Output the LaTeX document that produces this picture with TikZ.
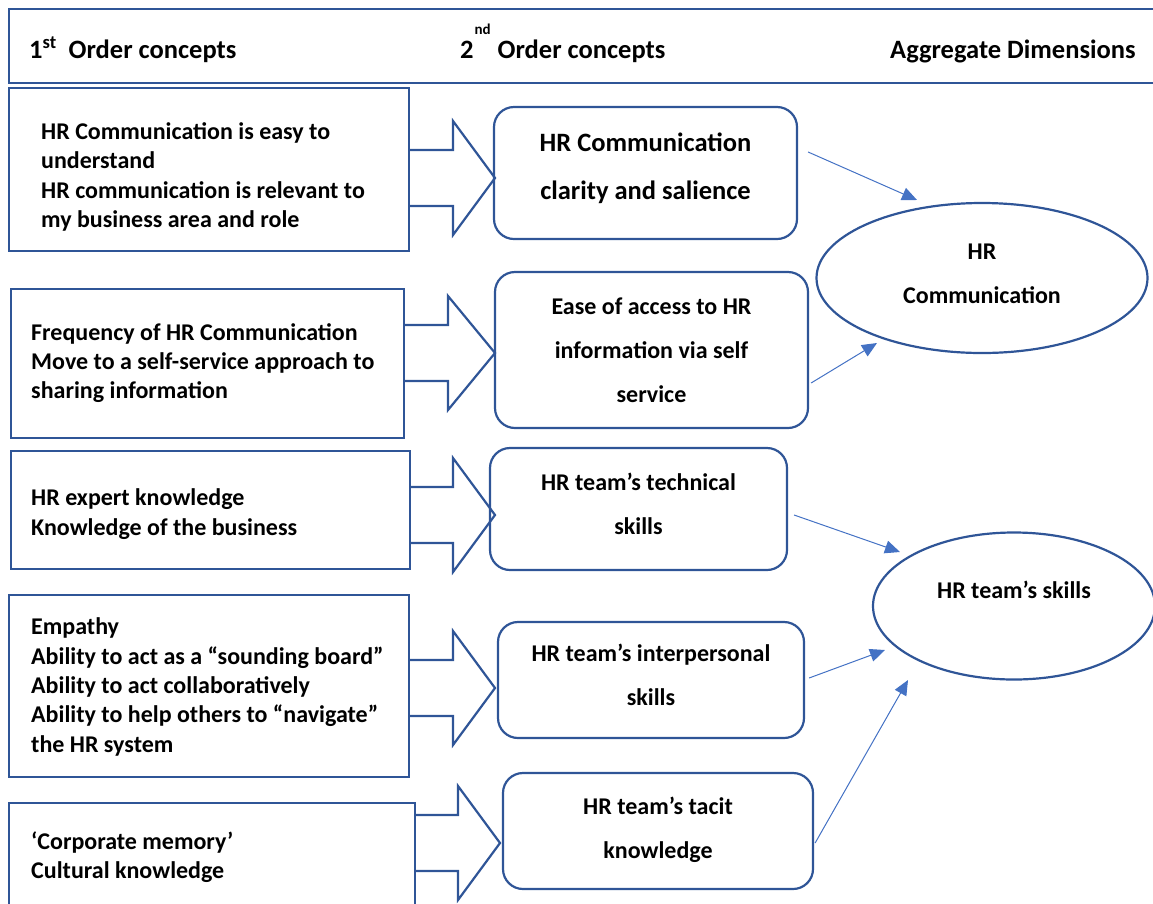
\documentclass[tikz,border=0pt]{standalone}
\usepackage{fontspec}
\setmainfont{Carlito}
\usetikzlibrary{arrows.meta,shapes.geometric,calc}
\definecolor{edgeblue}{RGB}{47,85,151}
\definecolor{linkblue}{RGB}{68,114,196}
% extra depth below the last line, to lift centred text a little
\newcommand{\deepstrut}[1]{\rule[-#1]{0pt}{0pt}}
% wide hollow arrow: shaft start x, head base x, tip x, centre y
\newcommand{\blockarrow}[4]{%
  \draw[blockarrow] (#1,#4-28) -- (#2,#4-28) -- (#2,#4-57) -- (#3,#4)
    -- (#2,#4+57) -- (#2,#4+28) -- (#1,#4+28);}
\begin{document}
\begin{tikzpicture}[x=1pt,y=-1pt,
  frame/.style={draw=edgeblue, line width=2.2pt, inner sep=0pt},
  srcbox/.style={frame, rectangle, anchor=north west},
  midbox/.style={frame, rounded corners=20pt, align=center,
    font=\bfseries\fontsize{24}{44}\selectfont},
  dimnode/.style={frame, ellipse, align=center,
    font=\bfseries\fontsize{24}{44}\selectfont},
  srctext/.style={anchor=west, align=left, inner sep=0pt,
    font=\bfseries\fontsize{24}{29.4}\selectfont},
  hdrtext/.style={anchor=base west, inner sep=0pt,
    font=\bfseries\fontsize{26.5}{30}\selectfont},
  blockarrow/.style={draw=edgeblue, line width=2.2pt, line join=miter},
  thinarrow/.style={draw=linkblue, line width=1pt,
    -{Triangle[length=15pt,width=13pt]}}
]
\clip (0,0) rectangle (1153,903);

% column headings
\node[srcbox, minimum width=1170pt, minimum height=74pt] (hdr) at (8,8) {};
\node[hdrtext] (h1) at (29,58) {1\textsuperscript{st}\ \ Order concepts};
\node[hdrtext] (h2) at (460,58)
  {2\hspace{1pt}\raisebox{24pt}{\fontsize{15}{15}\selectfont nd}\hspace{7pt}Order concepts};
\node[hdrtext] (h3) at (890,58) {Aggregate Dimensions};

% first order concepts
\node[srcbox, minimum width=400pt, minimum height=163pt] (b1) at (8,87) {};
\node[srcbox, minimum width=393pt, minimum height=149pt] (b2) at (10,288) {};
\node[srcbox, minimum width=399pt, minimum height=118pt] (b3) at (10,450) {};
\node[srcbox, minimum width=400pt, minimum height=182pt] (b4) at (8,594) {};
\node[srcbox, minimum width=406pt, minimum height=140pt] (b5) at (8,802) {};

\node[srctext] (t1) at (41,177) {HR Communication is easy to\\understand\\HR communication is relevant to\\my business area and role};
\node[srctext] (t2) at (31,363) {Frequency of HR Communication\\Move to a self-service approach to\\sharing information};
\node[srctext] (t3) at (31,514) {HR expert knowledge\\Knowledge of the business};
\node[srctext] (t4) at (31,687) {Empathy\\Ability to act as a “sounding board”\\Ability to act collaboratively\\Ability to help others to “navigate”\\the HR system};
\node[srctext] (t5) at (31,857) {‘Corporate memory’\\Cultural knowledge};

% wide arrows into the second order concepts
\blockarrow{408}{453}{495}{178}
\blockarrow{403}{448}{495}{353}
\blockarrow{409}{453}{495}{515}
\blockarrow{408}{453}{495}{688}
\blockarrow{414}{458}{500}{843}

% second order concepts
\node[midbox, minimum width=303pt, minimum height=132pt,
  font=\bfseries\fontsize{26.5}{48}\selectfont] (m1) at (645.5,173)
  {HR Communication\\clarity and salience\deepstrut{14pt}};
\node[midbox, minimum width=313pt, minimum height=156pt] (m2) at (651.5,350)
  {Ease of access to HR\\information via self\\service};
\node[midbox, minimum width=297pt, minimum height=122pt] (m3) at (638.5,509)
  {HR team’s technical\\skills\deepstrut{11pt}};
\node[midbox, minimum width=306pt, minimum height=116pt] (m4) at (651,680)
  {HR team’s interpersonal\\skills\deepstrut{11pt}};
\node[midbox, minimum width=310pt, minimum height=116pt] (m5) at (658,831)
  {HR team’s tacit\\knowledge\deepstrut{7pt}};

% aggregate dimensions
\node[dimnode, minimum width=331pt, minimum height=150pt] (e1) at (982,278)
  {HR\\Communication\deepstrut{9pt}};
\node[dimnode, minimum width=282pt, minimum height=147pt] (e2) at (1014,606)
  {HR team’s skills\deepstrut{33pt}};

% links to the aggregate dimensions
\draw[thinarrow] ($(m1.east)+(10,-21)$) -- ($(e1.center)+(-65,-78)$);
\draw[thinarrow] ($(m2.east)+(2,33)$) -- ($(e1.center)+(-105,65)$);
\draw[thinarrow] ($(m3.east)+(6,6)$) -- ($(e2.center)+(-114,-54)$);
\draw[thinarrow] ($(m4.east)+(4,-2)$) -- ($(e2.center)+(-129,44)$);
\draw[thinarrow] ($(m5.east)+(1,12)$) -- ($(e2.center)+(-106,74)$);
\end{tikzpicture}
\end{document}
